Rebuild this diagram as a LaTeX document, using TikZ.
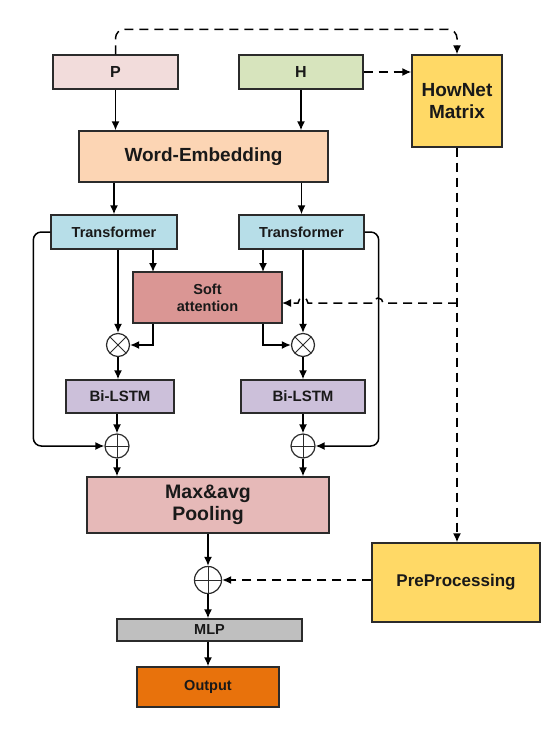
\documentclass[tikz,border=0pt]{standalone}
\usepackage{fontspec}
\setmainfont{Liberation Sans}
\usetikzlibrary{arrows.meta,calc}
\definecolor{cP}{HTML}{F2DCDB}
\definecolor{cH}{HTML}{D7E4BD}
\definecolor{cHN}{HTML}{FFD966}
\definecolor{cWE}{HTML}{FCD5B4}
\definecolor{cT}{HTML}{B7DEE8}
\definecolor{cSA}{HTML}{DA9694}
\definecolor{cBL}{HTML}{CCC0DA}
\definecolor{cPool}{HTML}{E6B9B8}
\definecolor{cMLP}{HTML}{BFBFBF}
\definecolor{cOut}{HTML}{E8720C}
\definecolor{cBorder}{HTML}{2B2B2B}
\newcommand{\fs}[1]{\fontsize{#1}{1.15\dimexpr#1pt\relax}\selectfont\bfseries}
\tikzset{
  box/.style={draw=cBorder,line width=1.4pt,inner sep=0pt,align=center,text=black!90},
  arr/.style={line width=1.5pt,-{Latex[length=9pt,width=8pt]}},
  darr/.style={arr,dash pattern=on 9pt off 6pt},
  otimesnode/.style={circle,draw=cBorder,line width=1.2pt,fill=white,minimum size=23pt,inner sep=0pt,
    path picture={\draw[line width=1pt] (path picture bounding box.north west) -- (path picture bounding box.south east)
      (path picture bounding box.north east) -- (path picture bounding box.south west);}},
  oplusnode/.style={circle,draw=cBorder,line width=1.2pt,fill=white,minimum size=24pt,inner sep=0pt,
    path picture={\draw[line width=0.7pt] (path picture bounding box.north) -- (path picture bounding box.south)
      (path picture bounding box.east) -- (path picture bounding box.west);}},
}
\begin{document}
\begin{tikzpicture}[x=1pt,y=-1pt]
\path[use as bounding box] (0,0) rectangle (551,734);
% nodes
\node[box,fill=cP,minimum width=125pt,minimum height=34pt,font=\fs{16}] (P) at (115.5,72) {P};
\node[box,fill=cH,minimum width=124pt,minimum height=34pt,font=\fs{16}] (H) at (301,72) {H};
\node[box,fill=cHN,minimum width=90pt,minimum height=92pt,font=\fs{19}] (HN) at (457,101) {HowNet\\Matrix};
\node[box,fill=cWE,minimum width=249pt,minimum height=51pt,font=\fs{19}] (WE) at (203.5,156.5) {Word-Embedding};
\node[box,fill=cT,minimum width=126pt,minimum height=34pt,font=\fs{14.5}] (T1) at (114,232) {Transformer};
\node[box,fill=cT,minimum width=125pt,minimum height=34pt,font=\fs{14.5}] (T2) at (301.5,232) {Transformer};
\node[box,fill=cSA,minimum width=149pt,minimum height=51pt,font=\fs{14.5}] (SA) at (207.5,297.5) {Soft\\attention};
\node[otimesnode] (X1) at (118,345) {};
\node[otimesnode] (X2) at (303,345) {};
\node[box,fill=cBL,minimum width=108pt,minimum height=33pt,font=\fs{15}] (BL1) at (120,396.5) {Bi-LSTM};
\node[box,fill=cBL,minimum width=124pt,minimum height=33pt,font=\fs{15}] (BL2) at (303,396.5) {Bi-LSTM};
\node[oplusnode] (O1) at (117,446) {};
\node[oplusnode] (O2) at (303,446) {};
\node[box,fill=cPool,minimum width=242pt,minimum height=56pt,font=\fs{19.5}] (Pool) at (208,505) {Max\&avg\\Pooling};
\node[oplusnode,minimum size=27pt] (O3) at (208,580) {};
\node[box,fill=cHN,minimum width=168pt,minimum height=79pt,font=\fs{17}] (Pre) at (456,582.5) {PreProcessing};
\node[box,fill=cMLP,minimum width=185pt,minimum height=22pt,font=\fs{14.5}] (MLP) at (209.5,630) {MLP};
\node[box,fill=cOut,minimum width=142pt,minimum height=40pt,font=\fs{14.5}] (Out) at (208,687) {Output};
% helper coordinates
\coordinate (sa1) at (153,272);
\coordinate (sa2) at (263,272);
\coordinate (sa3) at (282,303);
% connectors
\draw[darr,rounded corners=9pt] (P.north) -- ++(0,-25) -| (HN.north);
\draw[darr] (H.east) -- (H.east -| HN.west);
\draw[arr] (P.south) -- (P.south |- WE.north);
\draw[arr] (H.south) -- (H.south |- WE.north);
\draw[arr] (T1.north |- WE.south) -- (T1.north);
\draw[arr] (T2.north |- WE.south) -- (T2.north);
\draw[arr] (T1.south -| sa1) -- (sa1);
\draw[arr] (T2.south -| sa2) -- (sa2);
\draw[arr] (T1.south -| X1) -- (X1.north);
\draw[arr] (T2.south -| X2) -- (X2.north);
\draw[arr] (SA.south -| sa1) |- (X1.east);
\draw[arr] (SA.south -| sa2) |- (X2.west);
\draw[arr] (X1.south) -- (BL1.north -| X1);
\draw[arr] (X2.south) -- (BL2.north -| X2);
\draw[arr] (BL1.south -| O1) -- (O1.north);
\draw[arr] (BL2.south -| O2) -- (O2.north);
\draw[arr,rounded corners=8pt] (T1.west) -- ++(-17,0) |- (O1.west);
\draw[arr,rounded corners=8pt] (T2.east) -- ++(14,0) |- (O2.east);
\draw[arr] (O1.south) -- (O1.south |- Pool.north);
\draw[arr] (O2.south) -- (O2.south |- Pool.north);
\draw[arr] (Pool.south -| O3) -- (O3.north);
\draw[arr] (O3.south) -- (MLP.north -| O3);
\draw[arr] (MLP.south -| O3) -- (Out.north -| O3);
\draw[darr] (HN.south) -- (HN.south |- Pre.north);
\draw[darr] (Pre.west |- O3) -- (O3.east);
\draw[darr] (HN.south |- sa3) -- (383,303) arc[start angle=0,end angle=-180,radius=5]
  -- (308,303) arc[start angle=0,end angle=-180,radius=5] -- (sa3);
\end{tikzpicture}
\end{document}
